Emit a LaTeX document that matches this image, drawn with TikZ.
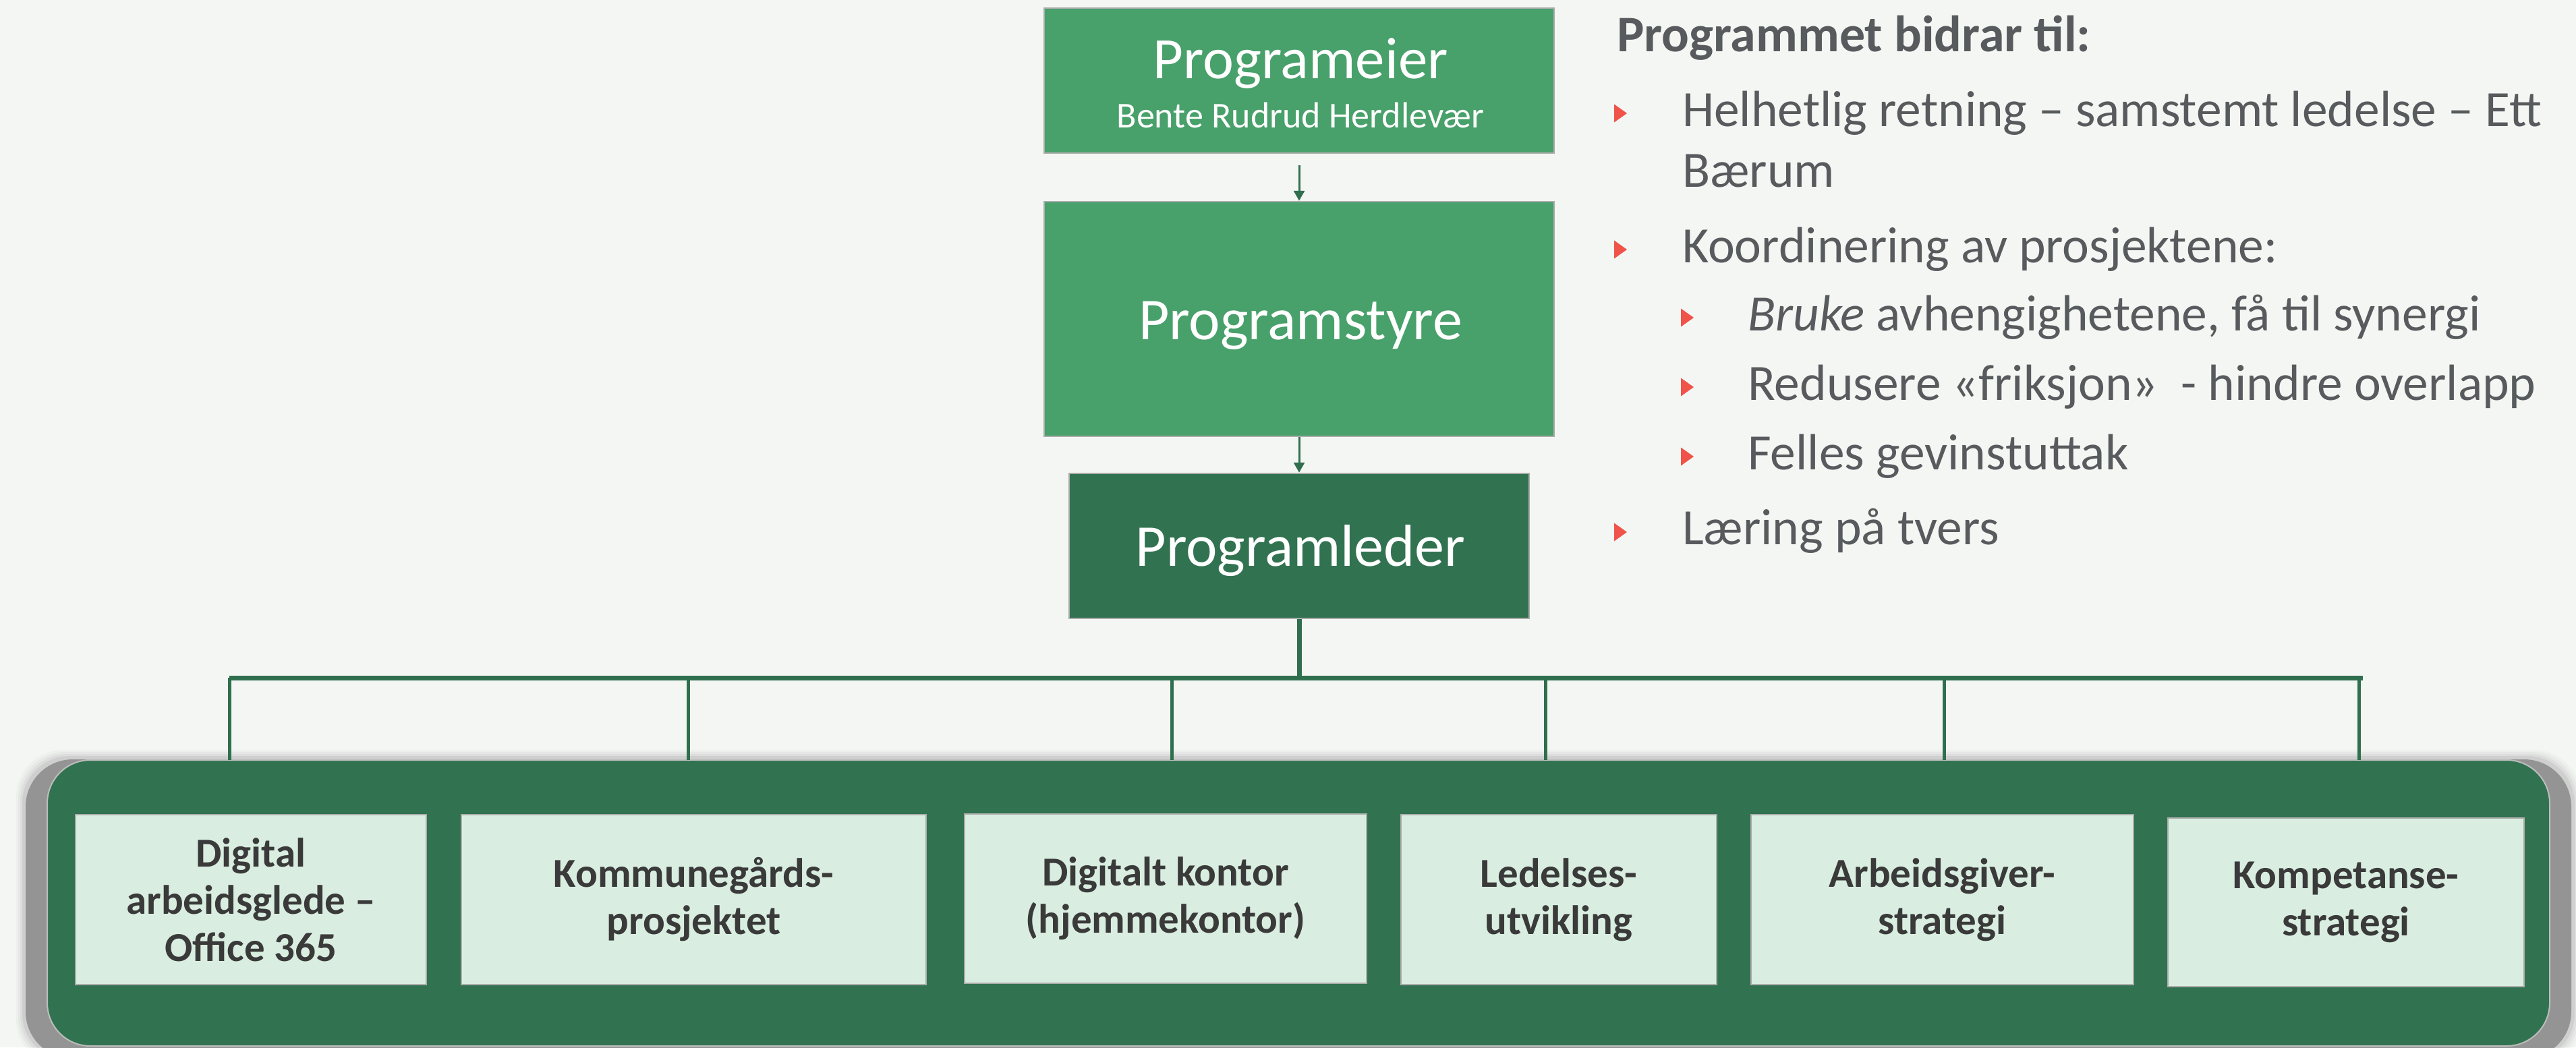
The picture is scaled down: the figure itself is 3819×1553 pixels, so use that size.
\documentclass[tikz,border=0pt]{standalone}
\usepackage{fontspec}
\setmainfont{Carlito}
\usetikzlibrary{arrows.meta}
\definecolor{bg}{HTML}{F4F6F3}
\definecolor{midgreen}{HTML}{48A06A}
\definecolor{darkgreen}{HTML}{317250}
\definecolor{linegreen}{HTML}{2F6F4E}
\definecolor{lightbox}{HTML}{D9EEE1}
\definecolor{boxedge}{HTML}{ABADAB}
\definecolor{txtgray}{HTML}{575B5D}
\definecolor{boxtxt}{HTML}{3A3A3A}
\definecolor{bulletred}{HTML}{EF5349}
\definecolor{shadowgray}{HTML}{949494}
\tikzset{
  topbox/.style={draw=boxedge, line width=2.5pt, fill=#1, inner sep=0pt},
  toptext/.style={text=white, inner sep=0pt, anchor=base},
  projbox/.style={draw=boxedge, line width=2.5pt, fill=lightbox, inner sep=0pt},
  projtext/.style={text=boxtxt, align=center, inner sep=0pt, font=\bfseries\fontsize{61}{70}\selectfont},
  conn/.style={draw=linegreen, line width=3pt},
  bus/.style={draw=linegreen, line width=7pt},
  drop/.style={draw=linegreen, line width=5pt},
  bultext/.style={text=txtgray, inner sep=0pt, anchor=base west, font=\fontsize{75.5}{88}\selectfont},
  bullet/.style={fill=bulletred, draw=none},
}
\begin{document}
\begin{tikzpicture}[x=1pt,y=-1pt]
\useasboundingbox (0,0) rectangle (3819,1553);
\fill[bg] (0,0) rectangle (3819,1553);

% ---- top hierarchy
\node[topbox=midgreen, minimum width=756pt, minimum height=215pt] (eier) at (1926,119.5) {};
\node[toptext, font=\fontsize{87}{100}\selectfont] (eiert) at (1928,116) {Programeier};
\node[toptext, font=\fontsize{54}{64}\selectfont] (eiern) at (1928,189.7) {Bente Rudrud Herdlevær};

\node[topbox=midgreen, minimum width=756pt, minimum height=348pt] (styre) at (1926,473) {};
\node[toptext, font=\fontsize{88}{100}\selectfont] (styret) at (1928,503) {Programstyre};

\node[topbox=darkgreen, minimum width=682pt, minimum height=215pt] (leder) at (1926,809.5) {};
\node[toptext, font=\fontsize{88}{100}\selectfont] (ledert) at (1928,839) {Programleder};

\draw[conn, -{Triangle[width=16pt,length=15pt]}, shorten <=17pt] (eier.south) -- (styre.north);
\draw[conn, -{Triangle[width=16pt,length=15pt]}] (styre.south) -- (leder.north);

% ---- bus
\coordinate (busL) at (340,1005);
\coordinate (busR) at (3503,1005);
\coordinate (busM) at (1926,1005);
\draw[bus] (leder.south) -- (busM);
\draw[bus] (busL) -- (busR);

% ---- container with shadow
\foreach \d/\o in {12/0.06,9/0.08,6/0.12,3/0.18}{
  \fill[shadowgray, opacity=\o, rounded corners=70pt] (36-\d,1124-\d) rectangle (3814+\d,1570+\d);
}
\fill[shadowgray, rounded corners=70pt] (38,1126) rectangle (3812,1570);
\draw[draw=boxedge!80!white, line width=2pt, fill=darkgreen, rounded corners=64pt] (70,1127) rectangle (3780,1551);
\coordinate (ct) at (0,1127);

\foreach \x in {340,1020,1737,2291,2882,3497}{
  \draw[drop] (busL -| \x,0) -- (ct -| \x,0);
}

% ---- project boxes
\node[projbox, minimum width=520pt, minimum height=252pt] (p1) at (372,1334) {};
\node[projtext] (p1t) at (p1.center) {Digital\\arbeidsglede –\\Office 365};
\node[projbox, minimum width=689pt, minimum height=252pt] (p2) at (1028.5,1334) {};
\node[projtext] (p2t) at (p2.center) {Kommunegårds-\\prosjektet};
\node[projbox, minimum width=596pt, minimum height=251pt] (p3) at (1728,1332.5) {};
\node[projtext] (p3t) at (p3.center) {Digitalt kontor\\(hjemmekontor)};
\node[projbox, minimum width=468pt, minimum height=252pt] (p4) at (2311,1334) {};
\node[projtext] (p4t) at (p4.center) {Ledelses-\\utvikling};
\node[projbox, minimum width=567pt, minimum height=252pt] (p5) at (2879.5,1334) {};
\node[projtext] (p5t) at (p5.center) {Arbeidsgiver-\\strategi};
\node[projbox, minimum width=528pt, minimum height=250pt] (p6) at (3478,1338) {};
\node[projtext] (p6t) at (p6.center) {Kompetanse-\\strategi};

% ---- right-hand text
\node[bultext, font=\bfseries\fontsize{76}{88}\selectfont] (title) at (2397,76) {Programmet bidrar til:};

\node[bultext] (b1) at (2494,187) {Helhetlig retning – samstemt ledelse – Ett};
\node[bultext] (b1b) at (2494,277.5) {Bærum};
\node[bultext] (b2) at (2494,389) {Koordinering av prosjektene:};
\node[bultext] (s1) at (2591,490.5) {\itshape Bruke\upshape{} avhengighetene, få til synergi};
\node[bultext] (s2) at (2591,593.5) {Redusere «friksjon»\ \ - hindre overlapp};
\node[bultext] (s3) at (2591,696.5) {Felles gevinstuttak};
\node[bultext] (b3) at (2494,807.6) {Læring på tvers};

\foreach \y in {168,370,789}{
  \fill[bullet] (2393,\y-13.5) -- (2412,\y) -- (2393,\y+13.5) -- cycle;
}
\foreach \y in {471,574,677}{
  \fill[bullet] (2492,\y-13.5) -- (2511,\y) -- (2492,\y+13.5) -- cycle;
}
\end{tikzpicture}
\end{document}
